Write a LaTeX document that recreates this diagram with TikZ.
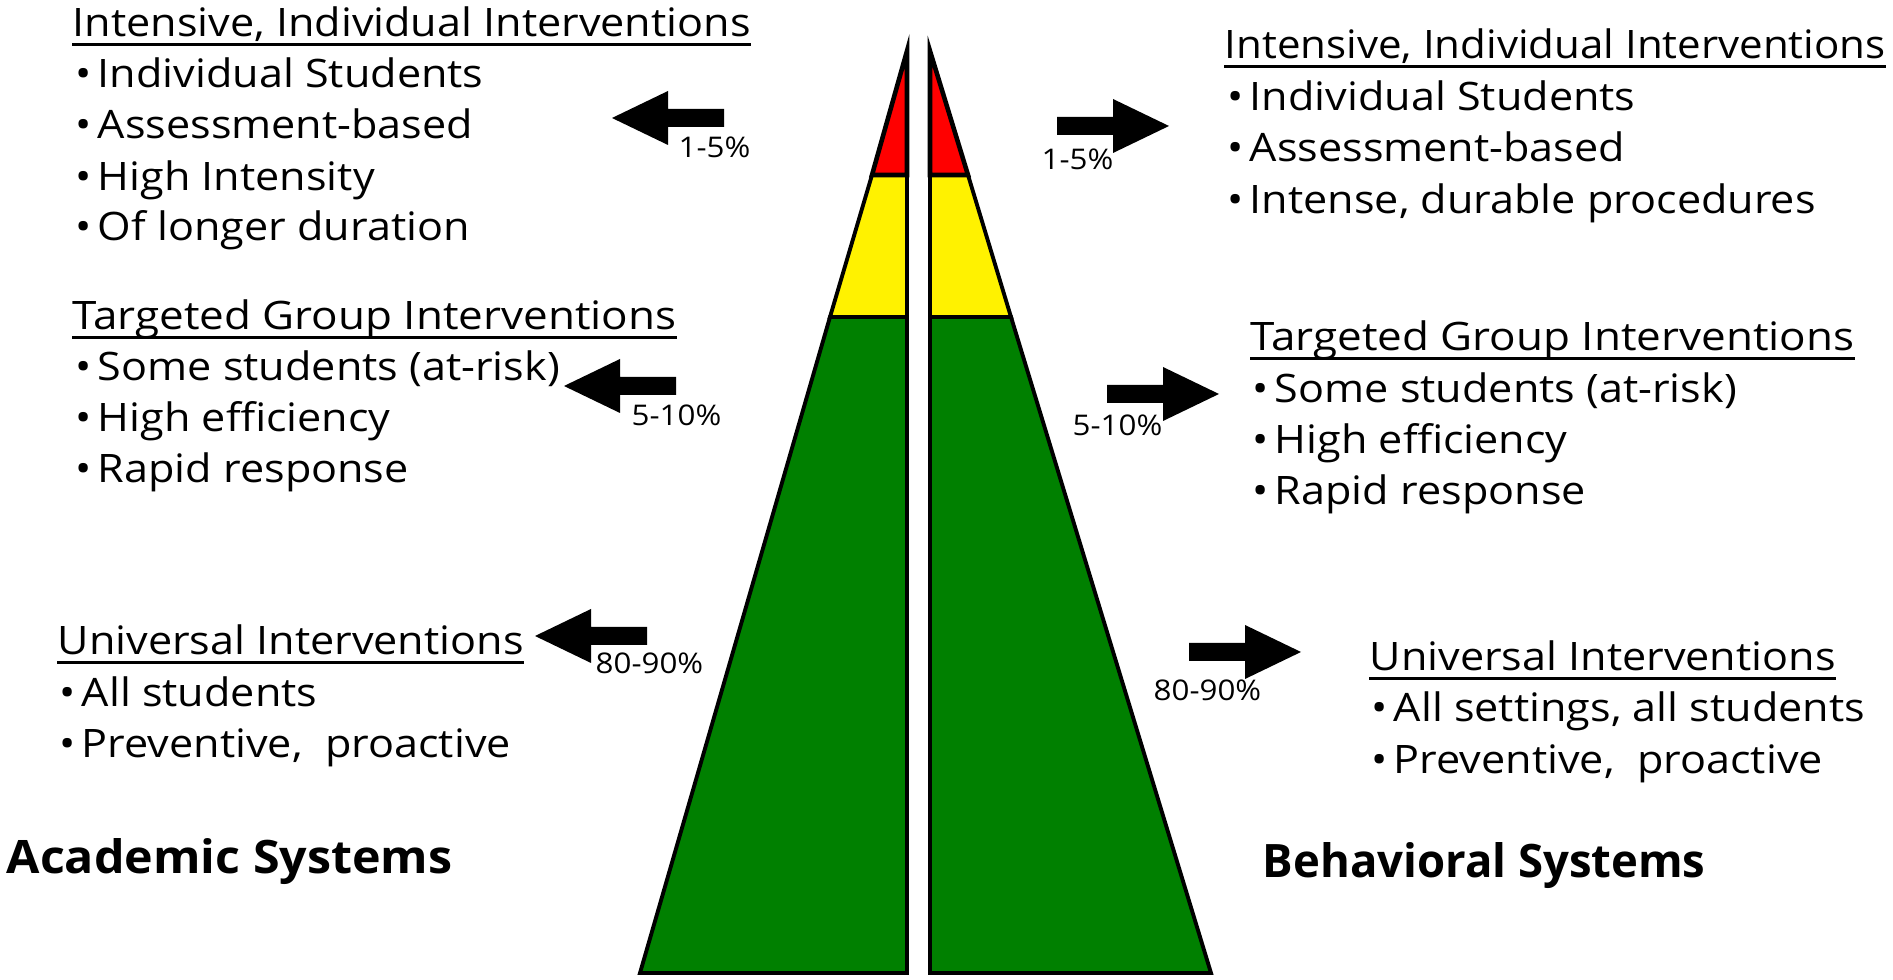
\documentclass[tikz,border=0pt]{standalone}
\usepackage{fontspec}
\setmainfont{Open Sans}[FakeStretch=1.10]
\newfontfamily\sysfont{Open Sans}[FakeStretch=1.05]
\newcommand\bul{\makebox[6.3pt][l]{•}}
\newcommand\headline[3]{%
  \node[head] (#1) at (#2) {#3};
  \draw[uline] ([yshift=-2pt]#1.base west) -- ([yshift=-2pt]#1.base east);}
\begin{document}
\begin{tikzpicture}[x=0.01cm,y=-0.01cm,
  band/.style={draw=black,line width=1.1pt,line join=miter},
  txt/.style={anchor=base west,inner sep=0pt,font=\fontsize{11.15}{13}\selectfont},
  head/.style={txt},
  pct/.style={anchor=base west,inner sep=0pt,font=\fontsize{8.1}{9}\selectfont},
  sys/.style={anchor=base west,inner sep=0pt,font=\sysfont\fontsize{13.1}{15}\selectfont\bfseries},
  uline/.style={line width=0.85pt},
  blockarrow/.pic={\fill[black] (0,-9) -- (56,-9) -- (56,-27) -- (112,0)
                    -- (56,27) -- (56,9) -- (0,9) -- cycle;}]
\useasboundingbox (0,0) rectangle (1893,980);

% ---- pyramid, left half ----
\coordinate (LA) at (907,51);
\coordinate (LR) at (872,175);  \coordinate (LRi) at (907,175);
\coordinate (LY) at (830,317);  \coordinate (LYi) at (907,317);
\coordinate (LB) at (640,973);  \coordinate (LBi) at (907,973);
\draw[band,fill={rgb,255:red,0;green,128;blue,0}] (LY) -- (LYi) -- (LBi) -- (LB) -- cycle;
\draw[band,fill=yellow] (LR) -- (LRi) -- (LYi) -- (LY) -- cycle;
\draw[band,fill=red,line width=1.3pt] (LA) -- (LRi) -- (LR) -- cycle;

% ---- pyramid, right half ----
\coordinate (RA) at (930,51);
\coordinate (RR) at (968,175);  \coordinate (RRi) at (930,175);
\coordinate (RY) at (1011,317); \coordinate (RYi) at (930,317);
\coordinate (RB) at (1211,973); \coordinate (RBi) at (930,973);
\draw[band,fill={rgb,255:red,0;green,128;blue,0}] (RYi) -- (RY) -- (RB) -- (RBi) -- cycle;
\draw[band,fill=yellow] (RRi) -- (RR) -- (RY) -- (RYi) -- cycle;
\draw[band,fill=red,line width=1.3pt] (RA) -- (RR) -- (RRi) -- cycle;

% ---- arrows and percentages ----
\pic[xscale=-1] at (724,118) {blockarrow};
\pic[xscale=-1] at (676,386) {blockarrow};
\pic[xscale=-1] at (647,636) {blockarrow};
\pic at (1057,126) {blockarrow};
\pic at (1107,394) {blockarrow};
\pic at (1189,652) {blockarrow};
\node[pct] (pl1) at (678,158) {1-5\%};
\node[pct] (pl2) at (631,426) {5-10\%};
\node[pct] (pl3) at (595,674) {80-90\%};
\node[pct] (pr1) at (1041,170) {1-5\%};
\node[pct] (pr2) at (1072,436) {5-10\%};
\node[pct] (pr3) at (1153,701) {80-90\%};

% ---- academic side ----
\headline{ah1}{72,37}{Intensive, Individual Interventions}
\node[txt] (a11) at (75,88)  {\bul Individual Students};
\node[txt] (a12) at (75,139) {\bul Assessment-based};
\node[txt] (a13) at (75,191) {\bul High Intensity};
\node[txt] (a14) at (75,241) {\bul Of longer duration};
\headline{ah2}{72,330}{\scalebox{1.02}[1]{Targeted Group Interventions}}
\node[txt] (a21) at (75,381) {\bul Some students (at-risk)};
\node[txt] (a22) at (75,432) {\bul High efficiency};
\node[txt] (a23) at (75,483) {\bul Rapid response};
\headline{ah3}{57,655}{Universal Interventions}
\node[txt] (a31) at (59,707) {\bul All students};
\node[txt] (a32) at (59,758) {\bul Preventive,\ \ proactive};
\node[sys] (asys) at (6,874) {Academic Systems};

% ---- behavioral side ----
\headline{bh1}{1224,59}{\scalebox{0.975}[1]{Intensive, Individual Interventions}}
\node[txt] (b11) at (1227,111) {\bul Individual Students};
\node[txt] (b12) at (1227,162) {\bul Assessment-based};
\node[txt] (b13) at (1227,214) {\bul Intense, durable procedures};
\headline{bh2}{1250,351}{\scalebox{1.02}[1]{Targeted Group Interventions}}
\node[txt] (b21) at (1252,403) {\bul Some students (at-risk)};
\node[txt] (b22) at (1252,454) {\bul High efficiency};
\node[txt] (b23) at (1252,505) {\bul Rapid response};
\headline{bh3}{1369,671}{Universal Interventions}
\node[txt] (b31) at (1371,722) {\bul All settings, all students};
\node[txt] (b32) at (1371,774) {\bul Preventive,\ \ proactive};
\node[sys] (bsys) at (1262,878) {\scalebox{0.94}[1]{Behavioral Systems}};
\end{tikzpicture}
\end{document}
